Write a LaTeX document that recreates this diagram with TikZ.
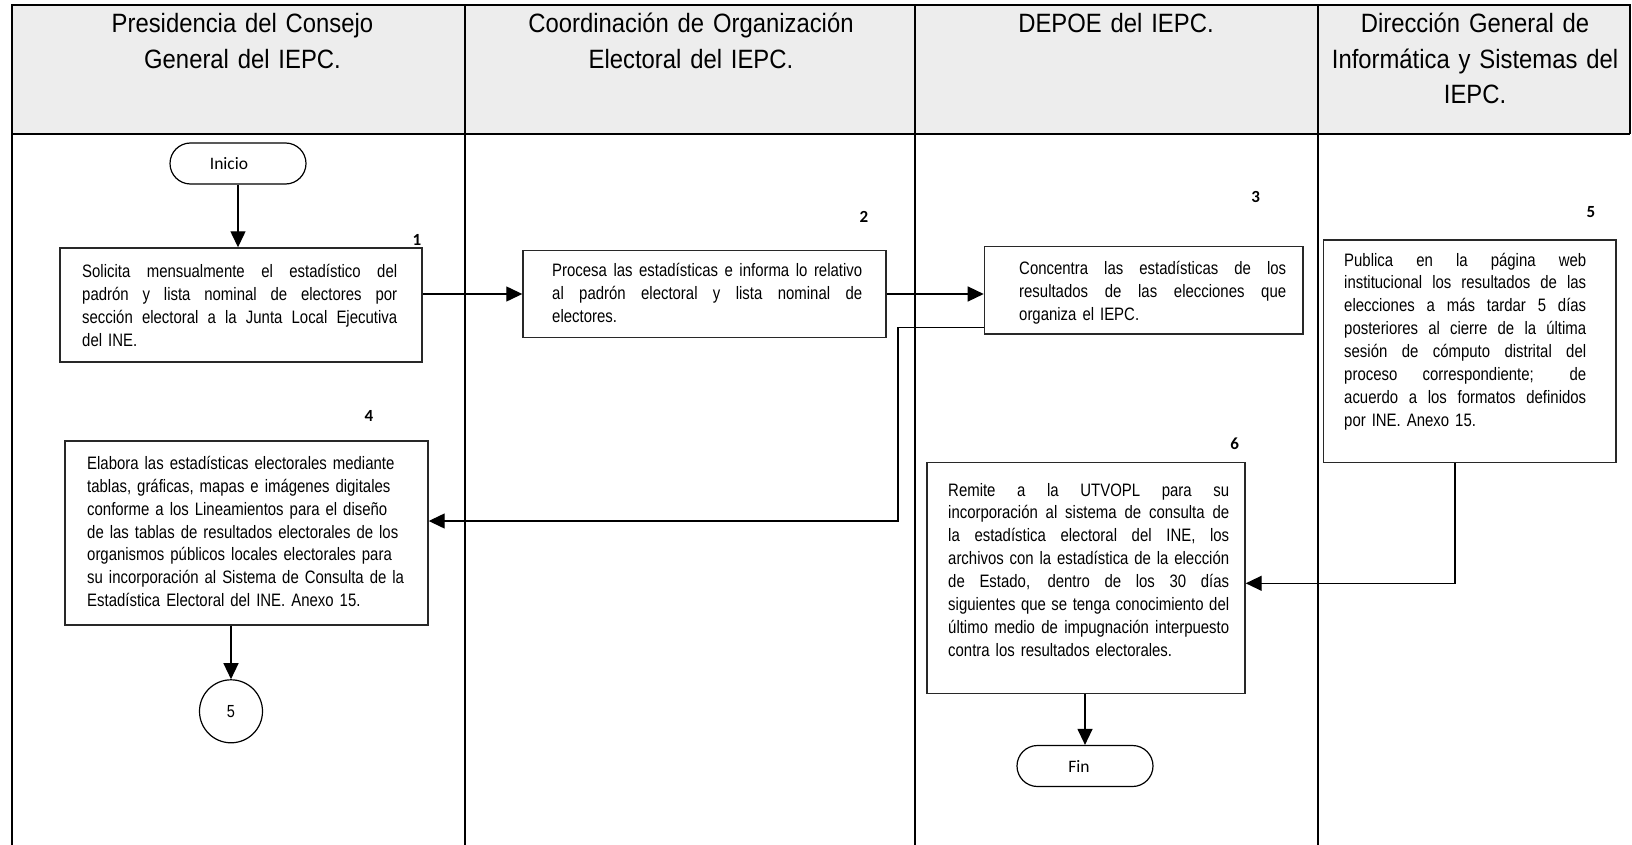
\documentclass[tikz,border=0pt]{standalone}
\usepackage{fontspec}
\setmainfont{Liberation Sans}
\newfontfamily\hdfont[FakeStretch=0.9]{Liberation Sans}
\newfontfamily\bxfont[FakeStretch=0.83]{Liberation Sans}
\newfontfamily\calfont{Carlito}
\usetikzlibrary{arrows.meta,shapes.misc,shapes.geometric}
\definecolor{hdgray}{RGB}{237,237,237}
\definecolor{bordergray}{RGB}{40,40,40}
\newcommand\jline[1]{\makebox[\hsize][s]{\spaceskip=0pt\xspaceskip=0pt\relax #1}\\}
\begin{document}
\begin{tikzpicture}[x=1pt,y=-1pt,
  lane/.style={line width=2.4pt},
  box/.style={draw=bordergray, line width=1.4pt, inner sep=0pt},
  txt/.style={inner sep=0pt, anchor=base west, align=left, font=\bxfont\fontsize{18}{22.9}\selectfont},
  hd/.style={inner sep=0pt, anchor=base, text width=440pt, align=center, font=\hdfont\fontsize{26.5}{35.5}\selectfont},
  arr/.style={line width=1.3pt, -{Triangle[length=16pt,width=15pt]}},
  num/.style={font=\calfont\bfseries\fontsize{17}{19}\selectfont, inner sep=0pt},
  term/.style={draw=black, rounded rectangle, line width=1.2pt, minimum width=136pt, minimum height=41pt, inner sep=0pt, font=\calfont\fontsize{17.5}{20}\selectfont},
  conn/.style={draw=black, circle, line width=1.2pt, minimum size=63pt, inner sep=0pt, font=\bxfont\fontsize{17.5}{20}\selectfont}
]
\useasboundingbox (0,0) rectangle (1632,845);
% header band and lanes
\fill[hdgray] (12,5) rectangle (1630,134);
\draw[lane] (12,845) -- (12,5) -- (1630,5) -- (1630,134);
\draw[lane] (12,134) -- (1630,134);
\draw[lane] (465,5) -- (465,845);
\draw[lane] (915,5) -- (915,845);
\draw[lane] (1318,5) -- (1318,845);
% headers
\node[hd] (h1) at (242.5,33) {Presidencia del Consejo\\General del IEPC.};
\node[hd] (h2) at (691,33) {Coordinación de Organización\\Electoral del IEPC.};
\node[hd] (h3) at (1116,33) {DEPOE del IEPC.};
\node[hd] (h4) at (1475,33) {Dirección General de\\Informática y Sistemas del\\IEPC.};
% start
\node[term] (inicio) at (238,163.5) {\hspace*{-18pt}Inicio};
% box 1
\node[box, minimum width=362pt, minimum height=114pt] (b1) at (241,305) {};
\node[num] (n1) at (417,240) {1};
\node[txt, text width=315pt] (t1) at (82,277.7) {\jline{Solicita mensualmente el estadístico del}\jline{padrón y lista nominal de electores por}\jline{sección electoral a la Junta Local Ejecutiva}del INE.};
% box 2
\node[box, minimum width=363pt, minimum height=86.6pt] (b2) at (704.5,294) {};
\node[num] (n2) at (864,216.7) {2};
\node[txt, text width=310pt] (t2) at (552,276.7) {\jline{Procesa las estadísticas e informa lo relativo}\jline{al padrón electoral y lista nominal de}electores.};
% box 3
\node[box, minimum width=318.6pt, minimum height=87.3pt] (b3) at (1143.7,290.3) {};
\node[num] (n3) at (1255.7,197.3) {3};
\node[txt, text width=267pt] (t3) at (1019,274.3) {\jline{Concentra las estadísticas de los}\jline{resultados de las elecciones que}organiza el IEPC.};
% box 4
\node[box, minimum width=363pt, minimum height=184pt] (b4) at (246.5,533) {};
\node[num] (n4) at (369,416) {4};
\node[txt, text width=330pt] (t4) at (87,469.3) {Elabora las estadísticas electorales mediante\\tablas, gráficas, mapas e imágenes digitales\\conforme a los Lineamientos para el diseño\\de las tablas de resultados electorales de los\\organismos públicos locales electorales para\\su incorporación al Sistema de Consulta de la\\Estadística Electoral del INE. Anexo 15.};
% connector 5
\node[conn] (c5) at (231,711.3) {5};
% box 5
\node[box, minimum width=292.3pt, minimum height=222.7pt] (b5) at (1469.7,351.4) {};
\node[num] (n5) at (1591,212.3) {5};
\node[txt, text width=242pt] (t5) at (1344,266) {\jline{Publica en la página web}\jline{institucional los resultados de las}\jline{elecciones a más tardar 5 días}\jline{posteriores al cierre de la última}\jline{sesión de cómputo distrital del}\jline{proceso correspondiente; de}\jline{acuerdo a los formatos definidos}por INE. Anexo 15.};
% box 6
\node[box, minimum width=318pt, minimum height=230.6pt] (b6) at (1086,578) {};
\node[num] (n6) at (1234.6,444) {6};
\node[txt, text width=281pt] (t6) at (948,496) {\jline{Remite a la UTVOPL para su}\jline{incorporación al sistema de consulta de}\jline{la estadística electoral del INE, los}\jline{archivos con la estadística de la elección}\jline{de Estado, dentro de los 30 días}\jline{siguientes que se tenga conocimiento del}\jline{último medio de impugnación interpuesto}contra los resultados electorales.};
% end
\node[term] (fin) at (1085,766) {\hspace*{-12pt}Fin};
% connectors
\coordinate (k1) at (898,521);
\coordinate (k2) at (1455,583.3);
\draw[arr] (inicio.south) -- (inicio.south |- b1.north);
\draw[arr] (b2.west -| b1.east) -- (b2.west);
\draw[arr] (b2.east) -- (b2.east -| b3.west);
\draw[arr] ([yshift=7pt]b3.south west) -| (k1) -- (k1 -| b4.east);
\draw[arr] (c5.north |- b4.south) -- (c5.north);
\draw[arr] (k2 |- b5.south) -- (k2) -- (k2 -| b6.east);
\draw[arr] (b6.south -| fin.north) -- (fin.north);
\end{tikzpicture}
\end{document}
